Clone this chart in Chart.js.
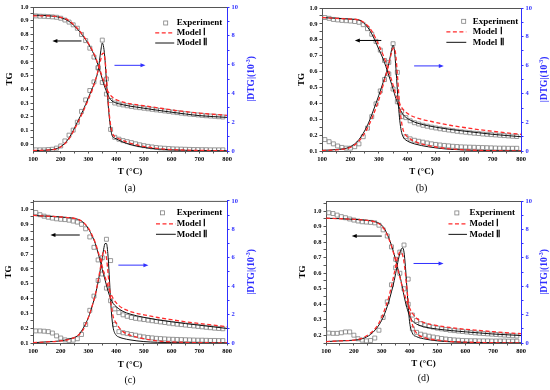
<!DOCTYPE html>
<html>
<head>
<meta charset="utf-8">
<script src="https://cdn.jsdelivr.net/npm/chart.js@4.4.0/dist/chart.umd.min.js"></script>
<style>
  html, body { margin: 0; padding: 0; background: #fff; }
  #wrap { position: relative; width: 550px; height: 390px; }
  .panel { position: absolute; width: 275px; height: 195px; }
</style>
</head>
<body>
<div id="wrap">
  <div class="panel" style="left:0;top:0"><canvas id="chartA"></canvas></div>
  <div class="panel" style="left:275px;top:0"><canvas id="chartB"></canvas></div>
  <div class="panel" style="left:0;top:195px"><canvas id="chartC"></canvas></div>
  <div class="panel" style="left:275px;top:195px"><canvas id="chartD"></canvas></div>
</div>
<script>
// temperatures (°C)
const expT = [110,125,140,155,170,185,200,215,230,245,260,275,290,305,320,335,350,365,380,395,
              410,425,440,455,470,485,500,515,530,545,560,575,590,605,620,635,650,665,680,695,
              710,725,740,755,770,785];
const modelT = [100,150,200,230,260,280,300,315,325,335,345,350,355,360,365,370,375,380,385,390,
                400,410,425,450,500,550,600,650,700,800];

// tick labels
const xMajor = [100,200,300,400,500,600,700,800];
const xMinor = [150,250,350,450,550,650,750];
const dtgMajor = [0,2,4,6,8,10];
const dtgMinor = [1,3,5,7,9];
const tgMajorA = [0.0,0.1,0.2,0.3,0.4,0.5,0.6,0.7,0.8,0.9,1.0];
const tgMinorA = [0.05,0.15,0.25,0.35,0.45,0.55,0.65,0.75,0.85,0.95];
const tgMajorB = [0.1,0.2,0.3,0.4,0.5,0.6,0.7,0.8,0.9,1.0];
const tgMinorB = [0.15,0.25,0.35,0.45,0.55,0.65,0.75,0.85,0.95];
const tgMajorC = [0.1,0.2,0.3,0.4,0.5,0.6,0.7,0.8,0.9,1.0];
const tgMinorC = [0.15,0.25,0.35,0.45,0.55,0.65,0.75,0.85,0.95,1.05];
const tgMajorD = [0.2,0.3,0.4,0.5,0.6,0.7,0.8,0.9,1.0];
const tgMinorD = [0.15,0.25,0.35,0.45,0.55,0.65,0.75,0.85,0.95,1.05];

// ---- (a) ----
const tgExpA = [0.935,0.933,0.932,0.930,0.928,0.925,0.918,0.905,0.890,0.870,
                0.845,0.800,0.755,0.700,0.635,0.555,0.450,0.365,0.318,0.300,
                0.292,0.286,0.280,0.275,0.270,0.266,0.262,0.258,0.254,0.250,
                0.246,0.242,0.238,0.234,0.230,0.226,0.222,0.219,0.216,0.213,
                0.210,0.207,0.205,0.203,0.200,0.198];
const dtgExpA = [0.08,0.08,0.08,0.10,0.12,0.20,0.35,0.70,1.10,1.45,
                 2.00,2.75,3.55,4.20,4.80,5.80,7.70,5.00,1.50,0.95,
                 0.82,0.72,0.65,0.58,0.50,0.43,0.37,0.32,0.28,0.24,
                 0.21,0.19,0.17,0.15,0.14,0.13,0.12,0.11,0.10,0.10,
                 0.09,0.09,0.08,0.08,0.08,0.08];
const tgM1A = [0.935,0.935,0.925,0.900,0.845,0.795,0.735,0.680,0.635,0.580,
               0.520,0.490,0.460,0.430,0.405,0.385,0.370,0.355,0.345,0.337,
               0.325,0.317,0.307,0.295,0.280,0.265,0.250,0.237,0.226,0.210];
const tgM2A = [0.940,0.937,0.922,0.895,0.840,0.790,0.730,0.675,0.630,0.575,
               0.510,0.475,0.440,0.410,0.385,0.360,0.340,0.325,0.315,0.308,
               0.300,0.294,0.287,0.277,0.262,0.247,0.233,0.220,0.208,0.195];
const dtgM1A = [0.03,0.06,0.28,0.85,1.90,2.70,3.60,4.30,4.90,5.60,
                6.40,6.75,6.80,6.30,5.20,3.80,2.60,1.80,1.35,1.10,
                0.95,0.85,0.72,0.55,0.32,0.18,0.10,0.06,0.04,0.02];
const dtgM2A = [0.03,0.06,0.30,0.90,2.00,2.80,3.70,4.40,4.90,5.60,
                7.00,7.50,7.20,6.30,4.80,3.50,2.40,1.60,1.10,0.95,
                0.85,0.75,0.62,0.45,0.25,0.14,0.08,0.05,0.03,0.02];

// ---- (b) ----
const tgExpB = [0.940,0.935,0.928,0.925,0.922,0.920,0.918,0.915,0.910,0.895,
                0.870,0.835,0.790,0.735,0.670,0.585,0.490,0.410,0.350,0.310,
                0.290,0.278,0.270,0.262,0.256,0.250,0.245,0.240,0.236,0.232,
                0.228,0.224,0.221,0.218,0.215,0.212,0.210,0.207,0.205,0.203,
                0.201,0.199,0.197,0.195,0.193,0.191];
const dtgExpB = [0.80,0.65,0.50,0.35,0.25,0.20,0.20,0.30,0.50,1.00,
                 1.60,2.40,3.30,4.20,5.00,6.20,7.50,5.50,2.40,1.00,
                 0.85,0.75,0.68,0.62,0.56,0.50,0.46,0.42,0.39,0.36,
                 0.33,0.31,0.29,0.28,0.27,0.26,0.25,0.24,0.23,0.22,
                 0.21,0.20,0.20,0.19,0.19,0.19];
const tgM1B = [0.940,0.935,0.930,0.925,0.890,0.840,0.765,0.705,0.655,0.600,
               0.545,0.515,0.485,0.455,0.430,0.410,0.390,0.375,0.362,0.352,
               0.337,0.326,0.314,0.300,0.280,0.262,0.248,0.235,0.224,0.205];
const tgM2B = [0.940,0.935,0.930,0.925,0.880,0.820,0.740,0.680,0.630,0.575,
               0.520,0.490,0.460,0.430,0.405,0.380,0.360,0.345,0.330,0.320,
               0.305,0.295,0.282,0.268,0.250,0.236,0.225,0.215,0.205,0.190];
const dtgM1B = [0.02,0.08,0.25,0.70,1.60,2.50,3.60,4.60,5.30,6.10,
                6.90,7.20,7.20,6.60,5.40,4.00,2.80,2.00,1.50,1.25,
                1.00,0.85,0.68,0.50,0.28,0.15,0.08,0.04,0.02,0.01];
const dtgM2B = [0.05,0.10,0.30,0.80,1.80,2.80,3.90,4.80,5.40,6.10,
                7.10,7.40,7.00,5.80,4.30,2.90,1.90,1.30,1.00,0.85,
                0.70,0.60,0.50,0.38,0.22,0.12,0.07,0.04,0.02,0.01];

// ---- (c) ----
const tgExpC = [0.980,0.965,0.955,0.948,0.942,0.937,0.934,0.932,0.928,0.922,
                0.915,0.900,0.870,0.815,0.745,0.660,0.565,0.470,0.385,0.330,
                0.305,0.290,0.280,0.272,0.266,0.262,0.258,0.254,0.250,0.246,
                0.242,0.238,0.234,0.230,0.227,0.224,0.221,0.218,0.215,0.212,
                0.209,0.206,0.203,0.200,0.198,0.196];
const dtgExpC = [0.85,0.85,0.83,0.80,0.70,0.50,0.35,0.22,0.18,0.20,
                 0.30,0.60,1.30,2.30,3.30,4.40,6.00,7.30,5.80,1.30,
                 0.80,0.72,0.66,0.60,0.55,0.48,0.43,0.39,0.36,0.33,
                 0.31,0.29,0.27,0.26,0.25,0.24,0.23,0.22,0.21,0.20,
                 0.20,0.19,0.18,0.18,0.17,0.17];
const tgM1C = [0.960,0.955,0.950,0.945,0.935,0.915,0.875,0.820,0.775,0.715,
               0.650,0.615,0.580,0.545,0.515,0.485,0.460,0.435,0.415,0.398,
               0.372,0.352,0.333,0.313,0.290,0.272,0.257,0.243,0.232,0.210];
const tgM2C = [0.960,0.955,0.950,0.945,0.935,0.915,0.870,0.815,0.770,0.705,
               0.635,0.595,0.560,0.525,0.490,0.455,0.425,0.400,0.380,0.365,
               0.345,0.330,0.313,0.295,0.273,0.256,0.243,0.231,0.220,0.198];
const dtgM1C = [0.02,0.08,0.15,0.25,0.50,0.90,1.80,2.70,3.40,4.40,
                5.50,6.10,6.50,6.50,6.00,5.10,4.00,3.00,2.30,1.80,
                1.40,1.10,0.80,0.55,0.30,0.15,0.08,0.04,0.02,0.01];
const dtgM2C = [0.02,0.08,0.15,0.28,0.50,1.00,1.80,2.70,3.40,4.30,
                5.40,6.00,6.60,7.00,7.00,6.30,4.80,3.00,1.70,1.00,
                0.55,0.42,0.32,0.22,0.10,0.05,0.03,0.02,0.01,0.01];

// ---- (d) ----
const tgExpD = [0.990,0.985,0.975,0.965,0.958,0.950,0.943,0.937,0.932,0.930,
                0.928,0.925,0.910,0.880,0.840,0.770,0.690,0.600,0.500,0.400,
                0.330,0.295,0.275,0.265,0.258,0.252,0.246,0.241,0.237,0.233,
                0.230,0.227,0.224,0.221,0.218,0.215,0.213,0.211,0.209,0.207,
                0.205,0.203,0.201,0.199,0.197,0.195];
const dtgExpD = [0.70,0.68,0.68,0.72,0.78,0.78,0.55,0.30,0.20,0.15,
                 0.18,0.35,0.90,1.80,2.90,4.10,5.30,6.40,6.90,4.50,
                 1.00,0.75,0.62,0.55,0.48,0.42,0.37,0.32,0.28,0.25,
                 0.22,0.20,0.18,0.17,0.16,0.16,0.15,0.15,0.15,0.14,
                 0.14,0.14,0.14,0.13,0.13,0.13];
const tgM1D = [0.955,0.952,0.948,0.944,0.938,0.928,0.905,0.865,0.825,0.775,
               0.715,0.680,0.645,0.610,0.575,0.540,0.505,0.475,0.445,0.418,
               0.375,0.342,0.310,0.283,0.262,0.249,0.239,0.231,0.223,0.210];
const tgM2D = [0.955,0.952,0.948,0.944,0.938,0.930,0.910,0.870,0.830,0.780,
               0.720,0.685,0.650,0.615,0.585,0.545,0.500,0.455,0.415,0.380,
               0.325,0.293,0.272,0.255,0.240,0.230,0.222,0.215,0.208,0.198];
const dtgM1D = [0.10,0.15,0.20,0.35,0.70,1.10,1.80,2.60,3.20,4.00,
                4.90,5.40,5.90,6.20,6.40,6.40,6.20,5.70,4.90,3.90,
                2.20,1.30,0.70,0.40,0.20,0.10,0.06,0.04,0.02,0.01];
const dtgM2D = [0.10,0.15,0.20,0.30,0.60,1.00,1.60,2.30,2.90,3.60,
                4.40,4.90,5.40,5.90,6.30,6.60,6.70,6.40,5.40,4.00,
                1.50,0.70,0.45,0.30,0.15,0.08,0.05,0.03,0.02,0.01];

const SERIF = "'Liberation Serif', 'Times New Roman', serif";
const BLUE = '#3030ff';
const RED = '#ff2b2b';
const FRAME = '#555555';

function pts(xs, ys) {
    return xs.map((x, i) => ({ x: x, y: ys[i] }));
}

function isMajor(list, v) {
    return list.some(m => Math.abs(m - v) < 1e-6);
}

function arrow(ctx, x0, x1, y, color) {
    const dir = x1 > x0 ? 1 : -1;
    ctx.strokeStyle = color;
    ctx.fillStyle = color;
    ctx.lineWidth = 1;
    ctx.beginPath();
    ctx.moveTo(x0, y);
    ctx.lineTo(x1 - dir * 4, y);
    ctx.stroke();
    ctx.beginPath();
    ctx.moveTo(x1, y);
    ctx.lineTo(x1 - dir * 5, y - 2);
    ctx.lineTo(x1 - dir * 5, y + 2);
    ctx.closePath();
    ctx.fill();
}

// titles, legend, arrows and the panel letter
const decorPlugin = {
    id: 'decor',
    afterDraw(chart, args, o) {
        const ctx = chart.ctx;
        const a = chart.chartArea;
        const w = a.right - a.left, h = a.bottom - a.top;
        const px = f => a.left + f * w;
        const py = f => a.top + f * h;
        const midY = (a.top + a.bottom) / 2;
        const midX = (a.left + a.right) / 2;
        ctx.save();

        // top frame line
        ctx.strokeStyle = FRAME;
        ctx.lineWidth = 1;
        ctx.beginPath();
        ctx.moveTo(a.left, a.top + 0.5);
        ctx.lineTo(a.right, a.top + 0.5);
        ctx.stroke();

        arrow(ctx, px(o.tgArrow[0]), px(o.tgArrow[1]), py(o.tgArrow[2]), '#000');
        arrow(ctx, px(o.dtgArrow[0]), px(o.dtgArrow[1]), py(o.dtgArrow[2]), BLUE);

        // legend
        const L = o.legend;
        ctx.strokeStyle = '#808080';
        ctx.lineWidth = 0.8;
        ctx.strokeRect(px(L.sq) - 2, py(L.rows[0]) - 2, 4, 4);
        ctx.strokeStyle = RED;
        ctx.lineWidth = 1.3;
        ctx.setLineDash([4, 2.5]);
        ctx.beginPath();
        ctx.moveTo(px(L.line[0]), py(L.rows[1]));
        ctx.lineTo(px(L.line[1]), py(L.rows[1]));
        ctx.stroke();
        ctx.setLineDash([]);
        ctx.strokeStyle = '#111';
        ctx.lineWidth = 1;
        ctx.beginPath();
        ctx.moveTo(px(L.line[0]), py(L.rows[2]));
        ctx.lineTo(px(L.line[1]), py(L.rows[2]));
        ctx.stroke();
        ctx.fillStyle = '#000';
        ctx.font = 'bold 9px ' + SERIF;
        ctx.textAlign = 'left';
        ctx.textBaseline = 'middle';
        ctx.fillText('Experiment', px(L.text), py(L.rows[0]));
        ctx.fillText('Model \u2160', px(L.text), py(L.rows[1]));
        ctx.fillText('Model \u2161', px(L.text), py(L.rows[2]));

        // axis titles
        ctx.textAlign = 'center';
        ctx.fillText('T (\u00B0C)', midX, o.xTitleY);
        ctx.save();
        ctx.translate(o.tgTitleX, midY);
        ctx.rotate(-Math.PI / 2);
        ctx.fillText('TG', 0, 0);
        ctx.restore();

        ctx.save();
        ctx.translate(o.dtgTitleX, midY);
        ctx.rotate(-Math.PI / 2);
        ctx.fillStyle = BLUE;
        const parts = [['|DTG|(10', 'bold 9.5px ', 0], ['-3', 'bold 6px ', -3.5], [')', 'bold 9.5px ', 0]];
        let total = 0;
        parts.forEach(p => { ctx.font = p[1] + SERIF; total += ctx.measureText(p[0]).width; });
        let cx = -total / 2;
        ctx.textAlign = 'left';
        parts.forEach(p => {
            ctx.font = p[1] + SERIF;
            ctx.fillText(p[0], cx, p[2]);
            cx += ctx.measureText(p[0]).width;
        });
        ctx.restore();

        // panel letter
        ctx.fillStyle = '#000';
        ctx.textAlign = 'center';
        ctx.font = '10px ' + SERIF;
        ctx.fillText(o.label, midX, o.labelY);
        ctx.restore();
    }
};

function expSet(xs, ys, axis) {
    return {
        data: pts(xs, ys), yAxisID: axis, showLine: false,
        pointStyle: 'rect', pointRadius: 2.8, pointBorderWidth: 0.8,
        pointBorderColor: '#808080', pointBackgroundColor: 'rgba(255,255,255,0)'
    };
}

function modelSet(xs, ys, axis, color, dash, width) {
    return {
        data: pts(xs, ys), yAxisID: axis, borderColor: color, borderDash: dash,
        borderWidth: width, pointRadius: 0, fill: false, cubicInterpolationMode: 'monotone'
    };
}

function buildPanel(id, p) {
    const tickFont = { family: SERIF, size: 6.5, weight: 'bold' };
    new Chart(document.getElementById(id), {
        type: 'line',
        data: {
            datasets: [
                modelSet(modelT, p.tgM1, 'y', RED, [4, 2.5], 1.3),
                modelSet(modelT, p.dtgM1, 'y1', RED, [4, 2.5], 1.3),
                modelSet(modelT, p.tgM2, 'y', '#111', [], 1),
                modelSet(modelT, p.dtgM2, 'y1', '#111', [], 1),
                expSet(expT, p.tgExp, 'y'),
                expSet(expT, p.dtgExp, 'y1')
            ]
        },
        plugins: [decorPlugin],
        options: {
            responsive: true,
            maintainAspectRatio: false,
            animation: false,
            events: [],
            layout: { padding: { top: p.box.top, left: 0, right: 0, bottom: 0 } },
            plugins: {
                legend: { display: false },
                tooltip: { enabled: false },
                decor: p.decor
            },
            scales: {
                x: {
                    type: 'linear', min: 100, max: 800,
                    afterBuildTicks: s => { s.ticks = xMajor.concat(xMinor).sort((m, n) => m - n).map(v => ({ value: v })); },
                    afterFit: s => { s.height = p.box.bottom; },
                    ticks: {
                        autoSkip: false, maxRotation: 0, padding: 2, color: '#000', font: tickFont,
                        callback: v => isMajor(xMajor, v) ? String(v) : ''
                    },
                    grid: { drawOnChartArea: false, tickLength: 2.5, tickColor: FRAME },
                    border: { color: FRAME, width: 1 }
                },
                y: {
                    position: 'left', min: p.tgRange[0], max: p.tgRange[1],
                    afterBuildTicks: s => { s.ticks = p.tgMajor.concat(p.tgMinor).sort((m, n) => m - n).map(v => ({ value: v })); },
                    afterFit: s => { s.width = p.box.left; },
                    ticks: {
                        autoSkip: false, padding: 2, color: '#000', font: tickFont,
                        callback: v => isMajor(p.tgMajor, v) ? v.toFixed(1) : ''
                    },
                    grid: { drawOnChartArea: false, tickLength: 2.5, tickColor: FRAME },
                    border: { color: FRAME, width: 1 }
                },
                y1: {
                    position: 'right', min: 0, max: 10,
                    afterBuildTicks: s => { s.ticks = dtgMajor.concat(dtgMinor).sort((m, n) => m - n).map(v => ({ value: v })); },
                    afterFit: s => { s.width = p.box.right; },
                    ticks: {
                        autoSkip: false, padding: 2, color: BLUE, font: tickFont,
                        callback: v => isMajor(dtgMajor, v) ? String(v) : ''
                    },
                    grid: { drawOnChartArea: false, tickLength: 2.5, tickColor: BLUE },
                    border: { color: BLUE, width: 1 }
                }
            }
        }
    });
}

buildPanel('chartA', {
    tgExp: tgExpA, dtgExp: dtgExpA, tgM1: tgM1A, tgM2: tgM2A, dtgM1: dtgM1A, dtgM2: dtgM2A,
    tgMajor: tgMajorA, tgMinor: tgMinorA, tgRange: [-0.05, 1.0],
    box: { left: 33, right: 48, top: 7, bottom: 44 },
    decor: {
        label: '(a)', labelY: 188, xTitleY: 172, tgTitleX: 10, dtgTitleX: 252,
        tgArrow: [0.25, 0.10, 0.236], dtgArrow: [0.42, 0.58, 0.405],
        legend: { sq: 0.684, text: 0.741, line: [0.63, 0.728], rows: [0.111, 0.18, 0.25] }
    }
});

buildPanel('chartB', {
    tgExp: tgExpB, dtgExp: dtgExpB, tgM1: tgM1B, tgM2: tgM2B, dtgM1: dtgM1B, dtgM2: dtgM2B,
    tgMajor: tgMajorB, tgMinor: tgMinorB, tgRange: [0.1, 1.0],
    box: { left: 47, right: 29, top: 8, bottom: 44 },
    decor: {
        label: '(b)', labelY: 188, xTitleY: 172, tgTitleX: 27, dtgTitleX: 270,
        tgArrow: [0.298, 0.165, 0.227], dtgArrow: [0.463, 0.612, 0.405],
        legend: { sq: 0.712, text: 0.758, line: [0.625, 0.725], rows: [0.093, 0.167, 0.24] }
    }
});

buildPanel('chartC', {
    tgExp: tgExpC, dtgExp: dtgExpC, tgM1: tgM1C, tgM2: tgM2C, dtgM1: dtgM1C, dtgM2: dtgM2C,
    tgMajor: tgMajorC, tgMinor: tgMinorC, tgRange: [0.1, 1.058],
    box: { left: 33, right: 48, top: 5, bottom: 47 },
    decor: {
        label: '(c)', labelY: 185, xTitleY: 170, tgTitleX: 9, dtgTitleX: 252,
        tgArrow: [0.241, 0.09, 0.24], dtgArrow: [0.44, 0.595, 0.452],
        legend: { sq: 0.667, text: 0.741, line: [0.634, 0.736], rows: [0.084, 0.161, 0.235] }
    }
});

buildPanel('chartD', {
    tgExp: tgExpD, dtgExp: dtgExpD, tgM1: tgM1D, tgM2: tgM2D, dtgM1: dtgM1D, dtgM2: dtgM2D,
    tgMajor: tgMajorD, tgMinor: tgMinorD, tgRange: [0.15, 1.066],
    box: { left: 51, right: 29, top: 6, bottom: 47 },
    decor: {
        label: '(d)', labelY: 183, xTitleY: 169, tgTitleX: 28, dtgTitleX: 270,
        tgArrow: [0.286, 0.132, 0.247], dtgArrow: [0.449, 0.603, 0.44],
        legend: { sq: 0.671, text: 0.736, line: [0.628, 0.723], rows: [0.084, 0.161, 0.235] }
    }
});
</script>
</body>
</html>
